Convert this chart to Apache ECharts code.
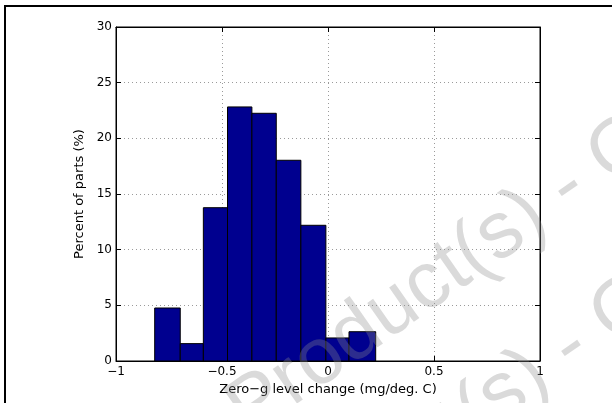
<!DOCTYPE html>
<html>
<head>
<meta charset="utf-8">
<script src="https://cdn.jsdelivr.net/npm/echarts@6/dist/echarts.min.js"></script>
<style>html,body{margin:0;padding:0;background:#fff;}#c{width:612px;height:403px;}</style>
</head>
<body>
<div id="c"></div>
<script>
// Histogram bins (mg/deg. C) and percent of parts
const binLeft  = [-0.8175, -0.697, -0.588, -0.474, -0.359, -0.244, -0.128, -0.010, 0.099];
const binRight = [-0.697, -0.588, -0.474, -0.359, -0.244, -0.128, -0.010, 0.099, 0.225];
const percent  = [4.76, 1.56, 13.77, 22.82, 22.25, 18.03, 12.19, 2.07, 2.63];
const xTicks = [-1, -0.5, 0, 0.5, 1];
const yTicks = [0, 5, 10, 15, 20, 25, 30];
const xName = 'Zero\u2212g level change (mg/deg. C)';
const yName = 'Percent of parts (%)';
const watermark = 'Product(s) - Obsolete Product(s)';

const data = binLeft.map((l, i) => [l, binRight[i], percent[i]]);
const fmt = v => String(v).replace('-', '\u2212');
const FONT = 'DejaVu Sans';

const chart = echarts.init(document.getElementById('c'), null, {renderer: 'canvas'});

function wmText(px, py, F, deg, txt) {
  const a = deg * Math.PI / 180;
  const nx = -Math.sin(a), ny = -Math.cos(a);
  return {
    type: 'text', silent: true, z: 100,
    x: px + nx * 0.3 * F, y: py + ny * 0.3 * F,
    rotation: a,
    style: {text: txt, font: F + 'px "Liberation Sans", Arial, sans-serif',
            fill: 'rgba(140,140,140,0.32)', verticalAlign: 'middle', align: 'left'}
  };
}

function sideAxis(pos, min, max, interval) {
  return {
    type: 'value', min: min, max: max, interval: interval, position: pos,
    axisLine: {show: true, onZero: false, lineStyle: {color: '#000', width: 1}},
    axisTick: {show: true, inside: true, length: 5, lineStyle: {color: '#000'}},
    axisLabel: {show: false}, splitLine: {show: false}
  };
}

chart.setOption({
  animation: false,
  backgroundColor: '#fff',
  grid: {left: 116, top: 27, width: 424, height: 334, show: true,
         borderColor: '#000', borderWidth: 1, backgroundColor: '#fff'},
  xAxis: [{
    type: 'value', min: -1, max: 1, interval: 0.5, position: 'bottom',
    name: xName, nameLocation: 'middle', nameGap: 18,
    nameTextStyle: {fontFamily: FONT, fontSize: 13, color: '#000'},
    axisLine: {show: true, onZero: false, lineStyle: {color: '#000', width: 1}},
    axisTick: {show: true, inside: true, length: 5, lineStyle: {color: '#000'}},
    axisLabel: {fontFamily: FONT, fontSize: 12, color: '#000', margin: 5, formatter: fmt},
    splitLine: {show: true, lineStyle: {color: '#9a9a9a', type: [1, 3], width: 1}}
  }, sideAxis('top', -1, 1, 0.5)],
  yAxis: [{
    type: 'value', min: 0, max: 30, interval: 5, position: 'left',
    name: yName, nameLocation: 'middle', nameGap: 17, nameRotate: 90,
    nameTextStyle: {fontFamily: FONT, fontSize: 13, color: '#000'},
    axisLine: {show: true, onZero: false, lineStyle: {color: '#000', width: 1}},
    axisTick: {show: true, inside: true, length: 5, lineStyle: {color: '#000'}},
    axisLabel: {fontFamily: FONT, fontSize: 12, color: '#000', margin: 4, formatter: fmt},
    splitLine: {show: true, lineStyle: {color: '#9a9a9a', type: [1, 3], width: 1}}
  }, sideAxis('right', 0, 30, 5)],
  series: [{
    type: 'custom', xAxisIndex: 0, yAxisIndex: 0, data: data,
    renderItem: function (params, api) {
      const p0 = api.coord([api.value(0), 0]);
      const p1 = api.coord([api.value(1), api.value(2)]);
      return {
        type: 'rect',
        shape: {x: p0[0], y: p1[1], width: p1[0] - p0[0], height: p0[1] - p1[1]},
        style: {fill: '#00008F', stroke: '#000', lineWidth: 1}
      };
    }
  }],
  graphic: [
    {type: 'rect', silent: true, z: 50, shape: {x: 5, y: 6, width: 800, height: 600},
     style: {fill: 'none', stroke: '#000', lineWidth: 2}},
    wmText(250, 439, 80, 35, watermark),
    wmText(253, 599, 80, 35, watermark)
  ]
});
</script>
</body>
</html>
